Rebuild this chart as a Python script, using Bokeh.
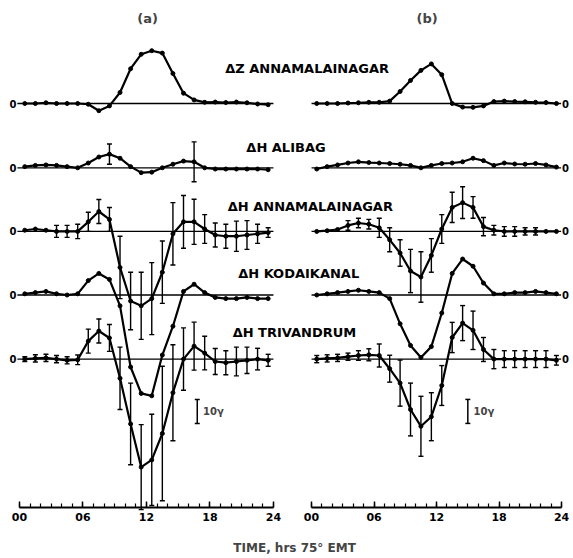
from bokeh.plotting import figure
from bokeh.models import (Range1d, LinearAxis, FixedTicker, Whisker, TeeHead,
                          ColumnDataSource, Label, CustomJSTickFormatter)
from bokeh.embed import file_html
from bokeh.resources import INLINE

# ---------------- data (gamma, hourly means plotted at mid-hour) ----------------
hours = [0.5, 1.5, 2.5, 3.5, 4.5, 5.5, 6.5, 7.5, 8.5, 9.5, 10.5, 11.5,
         12.5, 13.5, 14.5, 15.5, 16.5, 17.5, 18.5, 19.5, 20.5, 21.5, 22.5, 23.5]

# panel (a)
a_dz_annamalainagar = [0, 0, 0.3, 0, 0, 0, -0.3, -3, -1, 4.6, 14.5, 20.5,
                       22, 21, 12.5, 4.3, 1.5, 0.5, 0.6, 0.4, 0.6, 0.3, -0.2, -0.5]
a_dh_alibag = [0.5, 1, 1.2, 1, 0.5, 0, 2, 4.5, 5.7, 4, 0.5, -2,
               -1.8, 0, 1.5, 2.8, 2.5, 0, -0.5, -0.5, -0.5, -0.5, -0.5, -0.8]
a_dh_alibag_err = [None, None, None, None, None, None, None, None, 4.2, None, None, None,
                   None, None, None, None, 8.3, None, None, None, None, None, None, None]
a_dh_annamalainagar = [0.5, 1, 0.5, 0, 0, 0, 4, 8.3, 5, -15, -29, -31,
                       -28, -17, -1, 4, 4, 1, -1.5, -2, -2, -1.5, -1, -0.5]
a_dh_annamalainagar_err = [None, None, None, 2.5, 2.5, 3, 4, 5, 5, 13, 12, 14,
                           15, 13, 13, 11, 9.4, 6, 5, 5, 6.3, 6, 4, 2]
a_dh_kodaikanal = [0.5, 1, 1.5, 0.5, 0, 0.5, 6, 9, 6.5, -4.5, -30, -41,
                   -42, -25, -13, 1.5, 4.5, 1, -1, -1.5, -1.5, -1, -1.5, -1.5]
a_dh_trivandrum = [0, 0.3, 0.5, 0, -0.5, -0.3, 7.5, 11.7, 8.8, -8, -27, -45,
                   -42, -31, -14, 0, 5.4, 2.5, -1, -1.5, -1, -0.5, 0, -0.5]
a_dh_trivandrum_err = [1, 1.5, 1.5, 1.5, 1.5, 2, 5, 5, 5.6, 13, 17, 17.7,
                       19, 28, 20, 13, 10, 7, 5.4, 5, 6, 5.5, 4.5, 2.5]

# panel (b)
b_dz_annamalainagar = [0, 0, 0, 0.2, 0.3, 0.5, 0.5, 1, 5, 9.6, 13.8, 16.5,
                       12, 0, -1.5, -1.6, -1, 0.8, 1, 0.8, 0.7, 0.5, 0.4, 0]
b_dh_alibag = [-0.5, 0.5, 1.2, 2, 2.5, 2.2, 2, 1.8, 1.5, 1, 0, 1,
               1.8, 2, 2.5, 4, 3, 1, 2, 1.6, 1.5, 1.8, 1.2, 0.3]
b_dh_annamalainagar = [0, 0.3, 0.8, 2.5, 3.5, 3, 1.5, -3.5, -9, -16.5, -19, -10,
                       1, 10, 12, 10, 2, 0.5, 0, 0, 0, 0, 0, 0]
b_dh_annamalainagar_err = [None, None, None, 2, 2, 2, 4, 5, 5.5, 9, 10.5, 7,
                           6, 6.3, 6.6, 4.5, 3.8, 2, 2, 2, 1.5, 1.5, None, None]
b_dh_kodaikanal = [0, 0.5, 1, 1.5, 2, 1.5, 1, -1.5, -12, -21, -26, -21.5,
                   -7.5, 9, 15, 12, 5, 0.5, 0.5, 1, 1, 1.5, 1, 0.5]
b_dh_trivandrum = [0, 0.3, 0.5, 1, 1.5, 1.8, 1.5, -4, -10, -21, -28, -24,
                   -11, 9, 15, 12, 4, 0, 0, 0, 0, 0, 0, -0.5]
b_dh_trivandrum_err = [1.5, 1.5, 1.5, 1.5, 2, 2.5, 4.8, 5.6, 9.6, 11, 12.5, 10,
                       8.3, 6.3, 7.3, 8, 5, 4, 3.5, 3.5, 3.5, 3.5, 3.5, 2]

station_labels = ["\u0394Z  ANNAMALAINAGAR", "\u0394H  ALIBAG", "\u0394H  ANNAMALAINAGAR",
                  "\u0394H  KODAIKANAL", "\u0394H  TRIVANDRUM"]
hour_ticks = [0, 6, 12, 18, 24]
hour_tick_labels = ["00", "06", "12", "18", "24"]
scale_bar_gamma = 10

# ---------------- layout constants ----------------
offsets = [0, -26.8, -53.3, -79.8, -106.5]      # stacking of the traces (gamma)
axis_y = -168.3
FONT = "DejaVu Sans"

p = figure(width=571, height=556, output_backend="svg", toolbar_location=None,
           x_range=Range1d(-1.796, 52.17), y_range=Range1d(-188.75, 42.92),
           x_axis_type=None, y_axis_type=None, min_border=0,
           outline_line_color=None, background_fill_color="white",
           border_fill_color="white")
p.extra_x_ranges = {"b": Range1d(-29.85, 24.95)}
p.grid.visible = False


def draw(vals, errs, off, rng):
    ys = [off + v for v in vals]
    p.line(hours, ys, line_width=2.2, color="black", line_join="round", x_range_name=rng)
    p.scatter(hours, ys, size=4, color="black", x_range_name=rng)
    if errs:
        xs, lo, hi = [], [], []
        for h, y, e in zip(hours, ys, errs):
            if e is not None:
                xs.append(h)
                lo.append(y - e)
                hi.append(y + e)
        src = ColumnDataSource(dict(x=xs, lower=lo, upper=hi))
        w = Whisker(base="x", lower="lower", upper="upper", source=src,
                    line_width=1.4, line_color="black", x_range_name=rng,
                    upper_head=TeeHead(size=5, line_width=1.4, line_color="black"),
                    lower_head=TeeHead(size=5, line_width=1.4, line_color="black"))
        p.add_layout(w)


# baselines
p.segment(x0=[-0.2] * 5, x1=[24] * 5, y0=offsets, y1=offsets, line_width=1.3, color="black")
p.segment(x0=[0] * 5, x1=[23.95] * 5, y0=offsets, y1=offsets, line_width=1.3, color="black",
          x_range_name="b")

panel_a = [(a_dz_annamalainagar, None), (a_dh_alibag, a_dh_alibag_err),
           (a_dh_annamalainagar, a_dh_annamalainagar_err), (a_dh_kodaikanal, None),
           (a_dh_trivandrum, a_dh_trivandrum_err)]
panel_b = [(b_dz_annamalainagar, None), (b_dh_alibag, None),
           (b_dh_annamalainagar, b_dh_annamalainagar_err), (b_dh_kodaikanal, None),
           (b_dh_trivandrum, b_dh_trivandrum_err)]
for (v, e), off in zip(panel_a, offsets):
    draw(v, e, off, "default")
for (v, e), off in zip(panel_b, offsets):
    draw(v, e, off, "b")

# x axes (time)
for rng in ["default", "b"]:
    ax = LinearAxis(x_range_name=rng, bounds=(0, 24), fixed_location=axis_y,
                    ticker=FixedTicker(ticks=hour_ticks, minor_ticks=list(range(25))),
                    major_label_overrides=dict(zip(hour_ticks, hour_tick_labels)),
                    axis_line_width=2, axis_line_color="black",
                    major_tick_in=6, major_tick_out=0, minor_tick_in=4, minor_tick_out=0,
                    major_tick_line_width=1.5, minor_tick_line_width=1.2,
                    major_label_standoff=6, major_label_text_font=FONT,
                    major_label_text_font_style="bold", major_label_text_font_size="11px",
                    major_label_text_color="black")
    p.add_layout(ax, "below")

# "0" labels of each trace
zero_fmt = CustomJSTickFormatter(code="return '0';")
for rng, loc, side, standoff in [("default", -0.1, "left", 2), ("b", 23.95, "right", 1)]:
    ya = LinearAxis(x_range_name=rng, fixed_location=loc, ticker=FixedTicker(ticks=offsets),
                    formatter=zero_fmt, axis_line_color=None, major_tick_line_color=None,
                    minor_tick_line_color=None, major_tick_in=0, major_tick_out=0,
                    minor_tick_in=0, minor_tick_out=0, major_label_standoff=standoff,
                    major_label_text_font=FONT, major_label_text_font_style="bold",
                    major_label_text_font_size="10px", major_label_text_color="black")
    p.add_layout(ya, side)

# station labels
label_pos = [(27.4, 14.6), (25.4, -18.3), (27.7, -42.9), (26.6, -70.8), (26.2, -95.4)]
for txt, (lx, ly) in zip(station_labels, label_pos):
    p.add_layout(Label(x=lx, y=ly, text=txt, text_font=FONT, text_font_style="bold",
                       text_font_size="13px", text_align="center", text_baseline="middle",
                       text_color="black"))

# panel titles
p.add_layout(Label(x=12.1, y=35.4, text="(a)", text_font=FONT, text_font_style="bold",
                   text_font_size="13px", text_align="center", text_baseline="middle"))
p.add_layout(Label(x=11.1, y=35.4, text="(b)", x_range_name="b", text_font=FONT,
                   text_font_style="bold", text_font_size="13px", text_align="center",
                   text_baseline="middle"))

# 10 gamma scale bars
for rng, bx in [("default", 16.8), ("b", 15.0)]:
    src = ColumnDataSource(dict(x=[bx], lower=[-133.3], upper=[-133.3 + scale_bar_gamma]))
    p.add_layout(Whisker(base="x", lower="lower", upper="upper", source=src,
                         line_width=1.5, line_color="black", x_range_name=rng,
                         upper_head=TeeHead(size=5, line_width=1.5, line_color="black"),
                         lower_head=TeeHead(size=5, line_width=1.5, line_color="black")))
    p.add_layout(Label(x=bx + 0.55, y=-128.3, x_range_name=rng, text="10\u03b3",
                       text_font=FONT, text_font_style="bold", text_font_size="10px",
                       text_align="left", text_baseline="middle"))

# axis title
p.add_layout(Label(x=26.0, y=-185.4, text="TIME, hrs 75\u00b0 EMT", text_font=FONT,
                   text_font_style="bold", text_font_size="12px", text_align="center",
                   text_baseline="middle"))

open("out.html", "w").write(file_html(p, INLINE))
